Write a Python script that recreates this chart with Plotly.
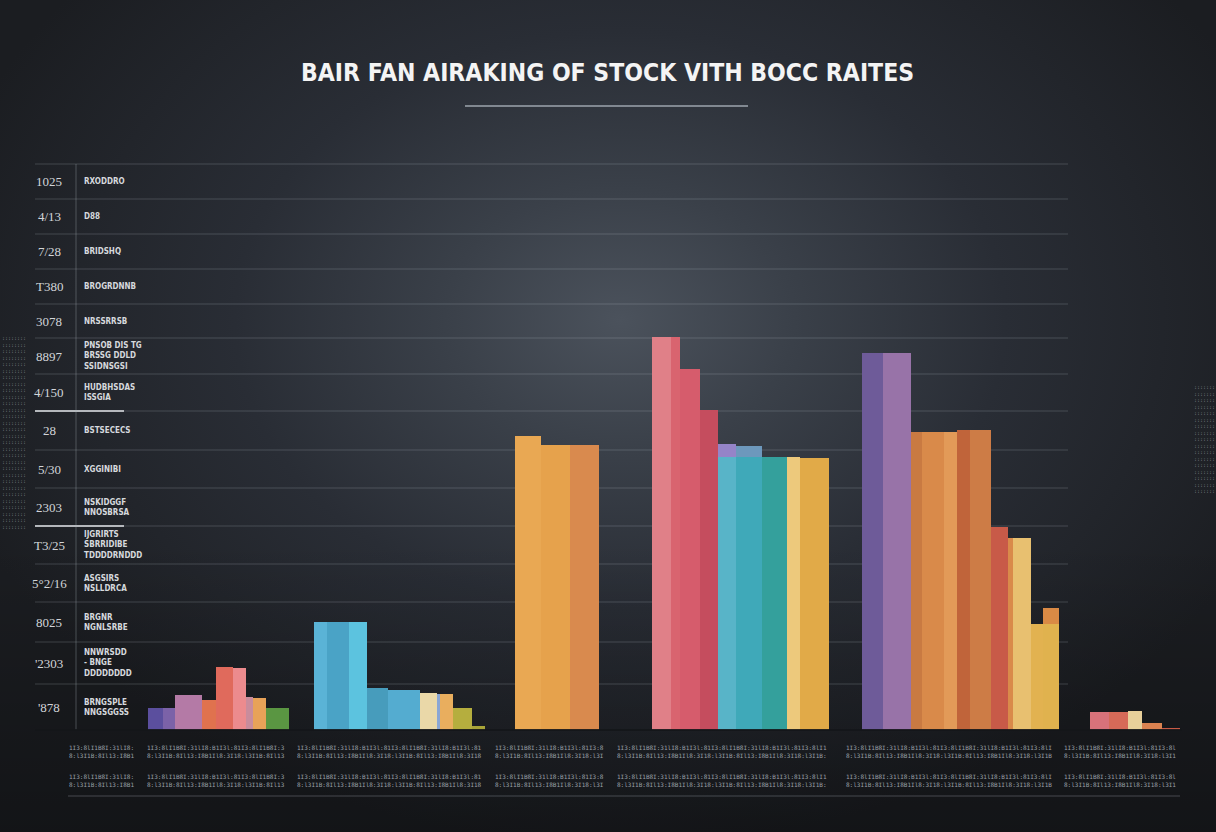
import base64
import plotly.graph_objects as go

W, H = 1216, 832

TITLE = "BAIR FAN AIRAKING OF STOCK VITH BOCC RAITES"

# ---- data -------------------------------------------------------------
GROUP_VALUES = [
    [4.4, 4.4, 7.0, 6.0, 12.6, 12.4, 6.6, 6.4, 4.4],
    [21.6, 21.6, 21.6, 8.4, 8.0, 7.4, 7.2, 7.2, 4.4, 0.8],
    [58.8, 57.0, 57.0],
    [78.6, 78.6, 72.2, 64.0, 54.6, 54.6, 54.6, 54.6, 54.4],
    [75.4, 75.4, 59.6, 59.6, 59.6, 60.0, 60.0, 40.6, 38.4, 38.4, 21.2, 21.2],
    [3.6, 3.6, 3.8, 1.4, 0.4],
]
# small caps sitting on top of some bars (group, bar index, total value)
CAP_VALUES = [(3, 4, 57.2), (3, 5, 56.8), (4, 11, 24.4)]
CAP_COLORS = ["#9584c8", "#6d98bc", "#d98a45"]

Y_LABELS = ["1025", "4/13", "7/28", "T380", "3078", "8897", "4/150", "28",
            "5/30", "2303", "T3/25", "5\u00b02/16", "8025", "'2303", "'878"]
Y_NOTES = ["RXODDRO", "D88", "BRIDSHQ", "BROGRDNNB", "NRSSRRSB",
           "PNSOB DIS TG<br>BRSSG DDLD<br>SSIDNSGSI", "HUDBHSDAS<br>ISSGIA",
           "BSTSECECS", "XGGINIBI", "NSKIDGGF<br>NNOSBRSA",
           "IJGRIRTS<br>SBRRIDIBE<br>TDDDDRNDDD", "ASGSIRS<br>NSLLDRCA",
           "BRGNR<br>NGNLSRBE", "NNWRSDD<br>- BNGE<br>DDDDDDDD",
           "BRNGSPLE<br>NNGSGGSS"]

# ---- styles / layout ---------------------------------------------------
GROUP_COLORS = [
    ["#5b4f9e", "#7b62a8", "#b47aa6", "#e0724e", "#e06a5c", "#ec8b8e", "#c98c9c", "#e8a258", "#5a9642"],
    ["#5ab3d6", "#4aa3c6", "#5cc3df", "#479cbc", "#54acd0", "#ead8a8", "#8aa6d4", "#e9ae5e", "#b5ae3e", "#a8a438"],
    ["#e9a853", "#e6a24c", "#d98a4e"],
    ["#e08088", "#d9646f", "#d65c6c", "#c54d5e", "#58b4c8", "#3fa9b9", "#34a09c", "#edc97c", "#e1aa48"],
    ["#6e5b99", "#9873a8", "#c97a42", "#d98a4a", "#e29a58", "#c0643a", "#cd7c46", "#c85a48", "#d98a4a", "#e8c070", "#e2b250", "#e0b24e"],
    ["#d8727a", "#d66a58", "#e8d09a", "#db8250", "#c85a45"],
]
GROUP_WIDTHS = [
    [1.5, 1.2, 2.7, 1.4, 1.7, 1.3, 0.7, 1.3, 2.3],
    [1.3, 2.2, 1.8, 2.1, 3.2, 1.7, 0.3, 1.3, 1.9, 1.3],
    [2.6, 2.9, 2.9],
    [1.9, 0.9, 2.0, 1.8, 1.8, 2.6, 2.5, 1.3, 2.9],
    [2.1, 2.8, 1.1, 2.2, 1.3, 1.3, 2.1, 1.7, 0.5, 1.8, 1.2, 1.6],
    [1.9, 1.9, 1.4, 2.0, 1.8],
]
GROUP_STARTS = [14.8, 31.4, 51.5, 65.2, 86.2, 109.0]
GRID_VALUES = [113.2, 106.2, 99.2, 92.2, 85.2, 78.4, 71.2, 63.8, 56.0,
               48.4, 40.8, 33.2, 25.6, 17.6, 9.2]

X_RANGE = [0, 121.6]
Y_RANGE = [-20.4, 146.0]

fig = go.Figure()

centres = []
for start, widths in zip(GROUP_STARTS, GROUP_WIDTHS):
    cs, pos = [], start
    for w in widths:
        cs.append(pos + w / 2)
        pos += w
    centres.append(cs)

fig.add_trace(go.Bar(
    x=[centres[g][i] for g, i, _ in CAP_VALUES],
    y=[v for _, _, v in CAP_VALUES],
    width=[GROUP_WIDTHS[g][i] for g, i, _ in CAP_VALUES],
    marker=dict(color=CAP_COLORS, line=dict(width=0)),
    hoverinfo="skip", showlegend=False))

for vals, cols, widths, cs in zip(GROUP_VALUES, GROUP_COLORS, GROUP_WIDTHS, centres):
    fig.add_trace(go.Bar(
        x=cs, y=vals, width=widths,
        marker=dict(color=cols, line=dict(width=0)),
        hoverinfo="skip", showlegend=False))

# ---- background -------------------------------------------------------
svg = f"""<svg xmlns='http://www.w3.org/2000/svg' width='{W}' height='{H}'>
<defs>
<radialGradient id='g' gradientUnits='userSpaceOnUse' cx='620' cy='320' r='700'
 gradientTransform='translate(620 320) scale(1 0.75) translate(-620 -320)'>
<stop offset='0' stop-color='#4b525c'/>
<stop offset='0.25' stop-color='#3a4049'/>
<stop offset='0.55' stop-color='#292d35'/>
<stop offset='1' stop-color='#1b1d21'/>
</radialGradient>
<linearGradient id='b' x1='0' y1='0' x2='0' y2='1'>
<stop offset='0.65' stop-color='#000' stop-opacity='0'/>
<stop offset='1' stop-color='#000' stop-opacity='0.3'/>
</linearGradient>
</defs>
<rect width='{W}' height='{H}' fill='url(#g)'/>
<rect width='{W}' height='{H}' fill='url(#b)'/>
</svg>"""
bg_src = "data:image/svg+xml;base64," + base64.b64encode(svg.encode()).decode()

def px_x(p):
    return p / W

def px_y(p):
    return 1 - p / H

shapes = []
for gv in GRID_VALUES:
    shapes.append(dict(type="line", xref="paper", yref="y", x0=px_x(35), x1=px_x(1068),
                       y0=gv, y1=gv, line=dict(color="rgba(190,200,210,0.22)", width=1),
                       layer="below"))
for gv in (63.8, 40.8):
    shapes.append(dict(type="line", xref="paper", yref="y", x0=px_x(35), x1=px_x(124),
                       y0=gv, y1=gv, line=dict(color="rgba(225,228,232,0.75)", width=2),
                       layer="below"))
shapes.append(dict(type="line", xref="paper", yref="y", x0=px_x(35), x1=px_x(1182),
                   y0=0, y1=0, line=dict(color="rgba(20,22,25,0.9)", width=2), layer="above"))
shapes.append(dict(type="line", xref="paper", yref="y", x0=px_x(76), x1=px_x(76),
                   y0=0, y1=GRID_VALUES[0], line=dict(color="rgba(170,178,186,0.35)", width=1),
                   layer="below"))
shapes.append(dict(type="line", xref="paper", yref="paper", x0=px_x(465), x1=px_x(748),
                   y0=px_y(106), y1=px_y(106), line=dict(color="rgba(150,158,166,0.8)", width=2)))
shapes.append(dict(type="line", xref="paper", yref="paper", x0=px_x(68), x1=px_x(1180),
                   y0=px_y(796), y1=px_y(796), line=dict(color="rgba(120,126,134,0.5)", width=1)))

annotations = []
annotations.append(dict(text=TITLE, xref="paper", yref="paper", x=px_x(607), y=px_y(73),
                        showarrow=False, xanchor="center", yanchor="middle",
                        font=dict(family="DejaVu Sans Condensed, Liberation Sans Narrow, sans-serif",
                                  size=24.5, weight=700, color="#f4f4f4")))

levels = GRID_VALUES + [0.0]
for i, (lab, note) in enumerate(zip(Y_LABELS, Y_NOTES)):
    ymid = (levels[i] + levels[i + 1]) / 2
    annotations.append(dict(text=lab, xref="paper", yref="y", x=px_x(49), y=ymid,
                            showarrow=False, xanchor="center", yanchor="middle",
                            font=dict(family="Liberation Serif, serif", size=13, color="#d2d5d9")))
    annotations.append(dict(text=note, xref="paper", yref="y", x=px_x(82), y=ymid,
                            showarrow=False, xanchor="left", yanchor="middle", align="left",
                            font=dict(family="DejaVu Sans Condensed, sans-serif", size=8,
                                      weight=700, color="#d6d9dd")))

PATTERN = "1I3:8lI1B8I:31lI8:B1I3l:8"
SEGMENTS = [(68, 135), (146, 285), (297, 481), (494, 605), (616, 827), (845, 1052), (1063, 1176)]
for a, b in SEGMENTS:
    n = int((b - a) / 3.6)
    line1 = (PATTERN * 10)[:n]
    line2 = (PATTERN[::-1] * 10)[:n]
    for yy in (751, 780):
        annotations.append(dict(text=line1 + "<br>" + line2, xref="paper", yref="paper",
                                x=px_x((a + b) / 2), y=px_y(yy), showarrow=False,
                                xanchor="center", yanchor="middle",
                                font=dict(family="DejaVu Sans Mono, monospace", size=6,
                                          color="#9aa0a7")))
side_left = "<br>".join(["::::::::"] * 30)
annotations.append(dict(text=side_left, xref="paper", yref="paper", x=px_x(14), y=px_y(432),
                        showarrow=False, xanchor="center", yanchor="middle",
                        font=dict(family="DejaVu Sans Mono, monospace", size=5, color="#8e949b")))
side_right = "<br>".join([":::::::"] * 17)
annotations.append(dict(text=side_right, xref="paper", yref="paper", x=px_x(1204), y=px_y(439),
                        showarrow=False, xanchor="center", yanchor="middle",
                        font=dict(family="DejaVu Sans Mono, monospace", size=5, color="#8e949b")))

fig.update_layout(
    width=W, height=H, autosize=False,
    margin=dict(l=0, r=0, t=0, b=0, pad=0),
    paper_bgcolor="#202328", plot_bgcolor="rgba(0,0,0,0)",
    barmode="overlay", bargap=0,
    xaxis=dict(range=X_RANGE, domain=[0, 1], visible=False, fixedrange=True),
    yaxis=dict(range=Y_RANGE, domain=[0, 1], visible=False, fixedrange=True),
    images=[dict(source=bg_src, xref="paper", yref="paper", x=0, y=1, sizex=1, sizey=1,
                 xanchor="left", yanchor="top", sizing="stretch", layer="below")],
    shapes=shapes, annotations=annotations, showlegend=False,
)

fig.write_html("out.html", config={"displayModeBar": False})
